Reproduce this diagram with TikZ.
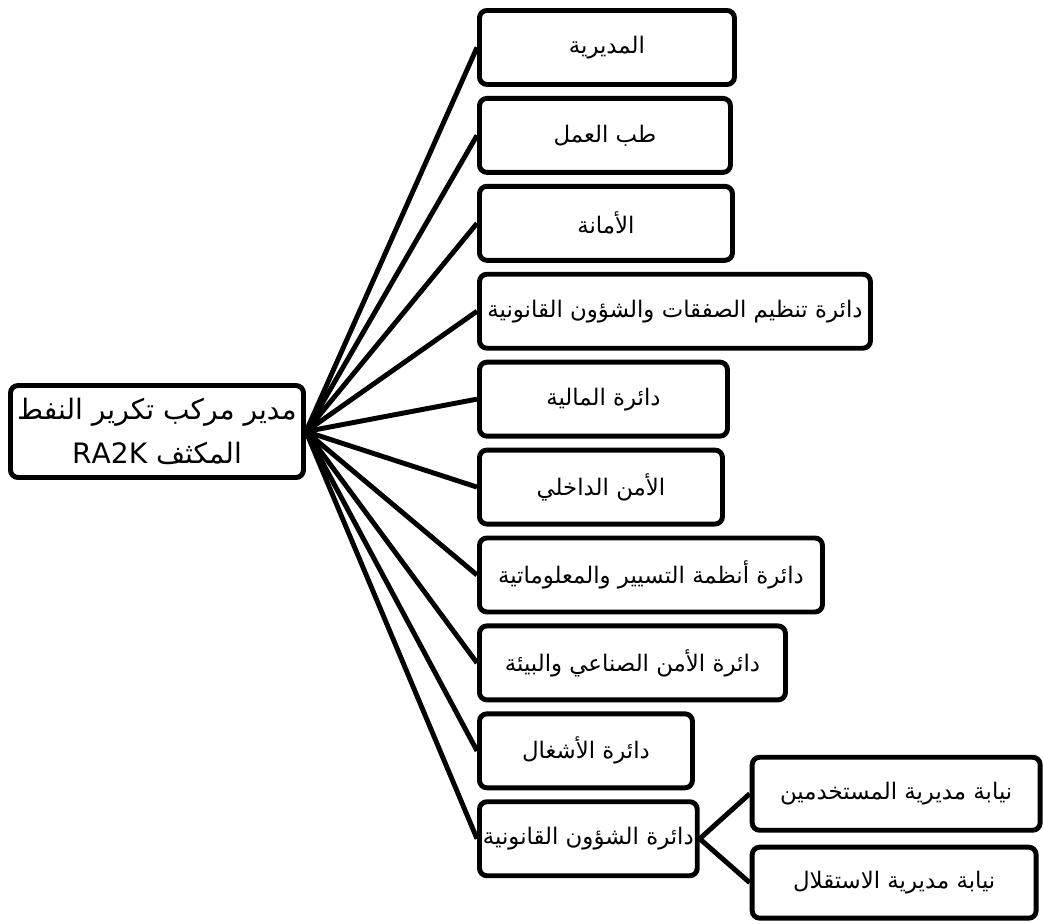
\documentclass[tikz,border=0pt]{standalone}
\usepackage{fontspec}
\newfontfamily\arabicfont[Script=Arabic]{DejaVu Sans}
\TeXXeTstate=1
\usetikzlibrary{positioning}

\begin{document}
\begin{tikzpicture}[
                node distance=0.18cm and 1.0cm,
                unitbox/.style={draw, line width=2.8pt, rounded corners=0.15cm, minimum height=1.48cm,
                    align=center, inner sep=2pt, font=\arabicfont\fontsize{13}{15}\selectfont},
                link/.style={line width=2.8pt, line join=round}
            ]
            \useasboundingbox (0,0) rectangle (20.86,-18.46);

            % Define nodes
            \node[unitbox, minimum width=5.86cm, minimum height=1.84cm, font=\arabicfont\fontsize{16}{25}\selectfont] (root) at (3.14,-8.63)
                {\beginR مدير مركب تكرير النفط\endR\\\beginR المكثف \beginL RA2K\endL\endR};

            \node[unitbox, minimum width=5.1cm, anchor=north west] (box1) at (9.54,-0.16) {\beginR المديرية\endR};
            \node[unitbox, minimum width=5.02cm, below=of box1.south west, anchor=north west] (box2) {\beginR طب العمل\endR};
            \node[unitbox, minimum width=5.06cm, below=of box2.south west, anchor=north west] (box3) {\beginR الأمانة\endR};
            \node[unitbox, minimum width=7.82cm, below=of box3.south west, anchor=north west] (box4) {\beginR دائرة تنظيم الصفقات والشؤون القانونية\endR};
            \node[unitbox, minimum width=4.96cm, below=of box4.south west, anchor=north west] (box5) {\beginR دائرة المالية\endR};
            \node[unitbox, minimum width=4.86cm, below=of box5.south west, anchor=north west] (box6) {\beginR الأمن الداخلي\endR};
            \node[unitbox, minimum width=6.86cm, below=of box6.south west, anchor=north west] (box7) {\beginR دائرة أنظمة التسيير والمعلوماتية\endR};
            \node[unitbox, minimum width=6.12cm, below=of box7.south west, anchor=north west] (box8) {\beginR دائرة الأمن الصناعي والبيئة\endR};
            \node[unitbox, minimum width=4.26cm, below=of box8.south west, anchor=north west] (box9) {\beginR دائرة الأشغال\endR};
            \node[unitbox, minimum width=4.26cm, below=of box9.south west, anchor=north west] (box10) {\beginR دائرة الشؤون القانونية\endR};

            \node[unitbox, minimum width=5.76cm, minimum height=1.46cm, right=of box10.east, yshift=0.9cm] (sub1) {\beginR نيابة مديرية المستخدمين\endR};
            \node[unitbox, minimum width=5.68cm, minimum height=1.42cm, below=0.24cm of sub1.south west, anchor=north west] (sub2) {\beginR نيابة مديرية الاستقلال\endR};

            % Lines from the head to each unit
            \foreach \n in {1,...,10}
                \draw[link] (root.east) -- (box\n.west);
            \draw[link] (box10.east) -- (sub1.west);
            \draw[link] (box10.east) -- (sub2.west);

        \end{tikzpicture}
\end{document}
